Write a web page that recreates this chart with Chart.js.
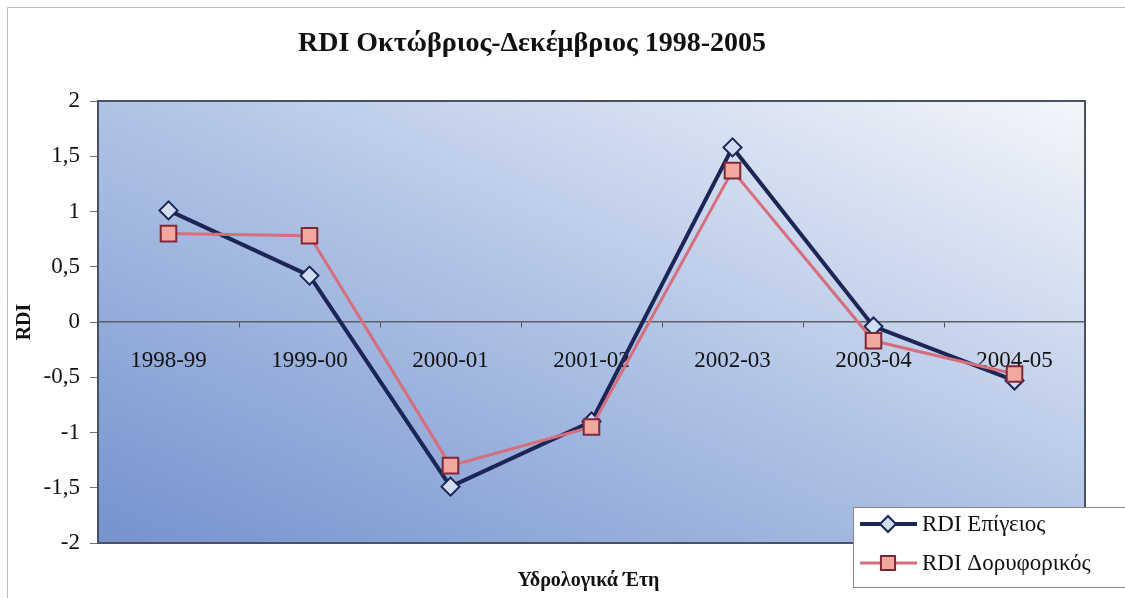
<!DOCTYPE html>
<html>
<head>
<meta charset="utf-8">
<script src="https://cdn.jsdelivr.net/npm/chart.js@4/dist/chart.umd.min.js"></script>
<style>
  html, body { margin: 0; padding: 0; background: #fff; }
  #wrap { position: relative; width: 1125px; height: 598px; }
</style>
</head>
<body>
<div id="wrap"><canvas id="chart"></canvas></div>
<script>
const years = ['1998-99', '1999-00', '2000-01', '2001-02', '2002-03', '2003-04', '2004-05'];
const rdiGround = [1.01, 0.42, -1.49, -0.90, 1.58, -0.04, -0.53];
const rdiSatellite = [0.80, 0.78, -1.30, -0.95, 1.37, -0.17, -0.47];
const seriesNames = ['RDI Επίγειος', 'RDI Δορυφορικός'];

const titleText = 'RDI Οκτώβριος-Δεκέμβριος 1998-2005';
const xTitle = 'Υδρολογικά Έτη';
const yTitle = 'RDI';

const serif = "'Liberation Serif', 'Times New Roman', serif";

// gradient background + frame, titles, legend
const plotBg = {
  id: 'plotBg',
  beforeDraw(chart) {
    const { ctx, chartArea: a } = chart;
    const w = a.right - a.left, h = a.bottom - a.top;
    // diagonal gradient: dark bottom-left -> light top-right
    const k = 2 * w * h / (w * w + h * h);
    const g = ctx.createLinearGradient(a.left, a.bottom, a.left + k * h, a.bottom - k * w);
    g.addColorStop(0, '#7592ce');
    g.addColorStop(0.5, '#b0c3e5');
    g.addColorStop(1, '#f4f6fa');
    ctx.save();
    ctx.fillStyle = g;
    ctx.fillRect(a.left, a.top, w, h);
    ctx.restore();
  },
  afterDraw(chart) {
    const { ctx, chartArea: a } = chart;
    ctx.save();
    // outer chart border (top/left)
    ctx.strokeStyle = '#bbbbbb';
    ctx.lineWidth = 1;
    ctx.beginPath();
    ctx.moveTo(7.5, 598);
    ctx.lineTo(7.5, 7.5);
    ctx.lineTo(1125, 7.5);
    ctx.stroke();

    // plot area frame
    ctx.strokeStyle = '#4a5264';
    ctx.lineWidth = 2;
    ctx.strokeRect(a.left, a.top, a.right - a.left, a.bottom - a.top);

    // titles
    ctx.fillStyle = '#111';
    ctx.textAlign = 'center';
    ctx.textBaseline = 'middle';
    ctx.font = 'bold 28px ' + serif;
    ctx.fillText(titleText, 532, 44);
    ctx.font = 'bold 20px ' + serif;
    ctx.fillText(xTitle, (a.left + a.right) / 2 - 3, 581);
    ctx.translate(25, (a.top + a.bottom) / 2);
    ctx.rotate(-Math.PI / 2);
    ctx.fillText(yTitle, 0, 0);
    ctx.restore();

    // legend
    ctx.save();
    ctx.fillStyle = '#ffffff';
    ctx.fillRect(853, 507, 280, 80);
    ctx.strokeStyle = '#888';
    ctx.lineWidth = 1;
    ctx.strokeRect(853.5, 507.5, 280, 80);
    ctx.font = '23px ' + serif;
    ctx.textAlign = 'left';
    ctx.textBaseline = 'middle';
    chart.data.datasets.forEach((ds, i) => {
      const y = 524 + i * 39;
      ctx.strokeStyle = ds.borderColor;
      ctx.lineWidth = ds.borderWidth;
      ctx.beginPath();
      ctx.moveTo(860, y);
      ctx.lineTo(917, y);
      ctx.stroke();
      ctx.fillStyle = ds.pointBackgroundColor;
      ctx.strokeStyle = ds.pointBorderColor;
      ctx.lineWidth = ds.pointBorderWidth;
      Chart.helpers.drawPoint(ctx, {
        pointStyle: ds.pointStyle,
        radius: ds.pointRadius - 1,
        borderWidth: ds.pointBorderWidth,
        rotation: 0
      }, 888, y);
      ctx.fillStyle = '#111';
      ctx.fillText(ds.label, 922, y + 1);
    });
    ctx.restore();
  }
};

new Chart(document.getElementById('chart'), {
  type: 'line',
  data: {
    labels: years,
    datasets: [
      {
        label: seriesNames[0],
        data: rdiGround,
        borderColor: '#1c2656',
        borderWidth: 4,
        pointStyle: 'rectRot',
        pointRadius: 9,
        pointHoverRadius: 9,
        pointBackgroundColor: '#cfdcf2',
        pointBorderColor: '#1c2656',
        pointBorderWidth: 2,
        tension: 0,
        order: 1
      },
      {
        label: seriesNames[1],
        data: rdiSatellite,
        borderColor: '#d66f7d',
        borderWidth: 3,
        pointStyle: 'rect',
        pointRadius: 11,
        pointHoverRadius: 11,
        pointBackgroundColor: '#f2a79f',
        pointBorderColor: '#7e2838',
        pointBorderWidth: 2,
        tension: 0,
        order: 0
      }
    ]
  },
  options: {
    responsive: true,
    maintainAspectRatio: false,
    animation: false,
    layout: { padding: { top: 101, right: 40, bottom: 55, left: 0 } },
    plugins: {
      legend: { display: false },
      title: { display: false },
      tooltip: { enabled: false }
    },
    scales: {
      x: {
        type: 'category',
        position: { y: 0 },
        offset: true,
        grid: {
          offset: true,
          drawOnChartArea: false,
          drawTicks: true,
          tickLength: 5,
          color: '#555'
        },
        border: { display: true, color: '#5a5f6a', width: 1.5 },
        ticks: {
          color: '#111',
          font: { family: serif, size: 23 },
          padding: 20,
          maxRotation: 0,
          autoSkip: false
        }
      },
      y: {
        min: -2,
        max: 2,
        afterFit(scale) { scale.width = 98; },
        grid: {
          drawOnChartArea: false,
          drawTicks: true,
          tickLength: 8,
          color: '#777'
        },
        border: { display: false },
        ticks: {
          stepSize: 0.5,
          color: '#111',
          padding: 10,
          font: { family: serif, size: 23 },
          callback: v => String(v).replace('.', ',')
        }
      }
    }
  },
  plugins: [plotBg]
});
</script>
</body>
</html>
